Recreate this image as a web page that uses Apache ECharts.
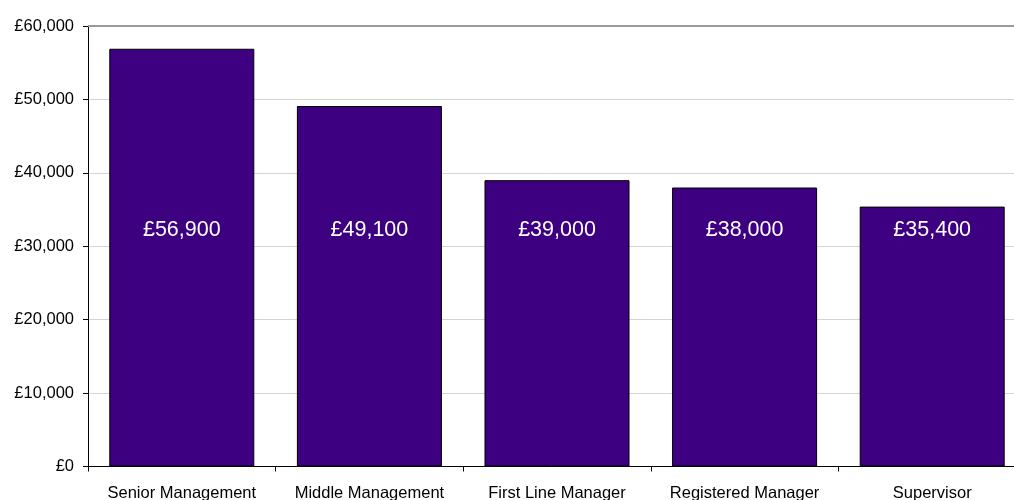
<!DOCTYPE html>
<html>
<head>
<meta charset="utf-8">
<script src="https://cdn.jsdelivr.net/npm/echarts@6/dist/echarts.min.js"></script>
<style>
html,body{margin:0;padding:0;background:#fff;}
#chart{width:1014px;height:500px;}
</style>
</head>
<body>
<div id="chart"></div>
<script>
var categories = ['Senior Management', 'Middle Management', 'First Line Manager', 'Registered Manager', 'Supervisor'];
var salaries = [56900, 49100, 39000, 38000, 35400];
var yTicks = [0, 10000, 20000, 30000, 40000, 50000, 60000];

function pounds(v) {
  return '\u00a3' + v.toString().replace(/\B(?=(\d{3})+(?!\d))/g, ',');
}

var chart = echarts.init(document.getElementById('chart'));
chart.setOption({
  animation: false,
  textStyle: { fontFamily: 'Liberation Sans, Arial, sans-serif' },
  grid: { left: 88, width: 938, top: 26, height: 440.5, containLabel: false, outerBoundsMode: 'none' },
  xAxis: {
    type: 'category',
    data: categories,
    axisLine: { lineStyle: { color: '#000', width: 1 } },
    axisTick: { show: true, length: 5, lineStyle: { color: '#000' } },
    axisLabel: { color: '#000', fontSize: 16.5, margin: 18, interval: 0 },
    splitLine: { show: false }
  },
  yAxis: {
    type: 'value',
    min: yTicks[0],
    max: yTicks[yTicks.length - 1],
    interval: 10000,
    axisLine: { show: true, lineStyle: { color: '#000', width: 1 } },
    axisTick: { show: true, length: 5, lineStyle: { color: '#000' } },
    axisLabel: { color: '#000', fontSize: 16.5, margin: 14, formatter: pounds },
    splitLine: { show: true, lineStyle: { color: '#d4d4d4', width: 1 } }
  },
  series: [{
    type: 'bar',
    data: salaries,
    barCategoryGap: '22.7%',
    itemStyle: { color: '#3c0080', borderColor: '#000', borderWidth: 1 },
    label: {
      show: true,
      position: 'insideBottom',
      distance: 225,
      color: '#fff',
      fontSize: 21.5,
      formatter: function (p) { return pounds(p.value); }
    },
    markLine: {
      silent: true,
      symbol: 'none',
      label: { show: false },
      lineStyle: { color: '#999', width: 2, type: 'solid' },
      data: [{ yAxis: yTicks[yTicks.length - 1] }]
    }
  }]
});
</script>
</body>
</html>
